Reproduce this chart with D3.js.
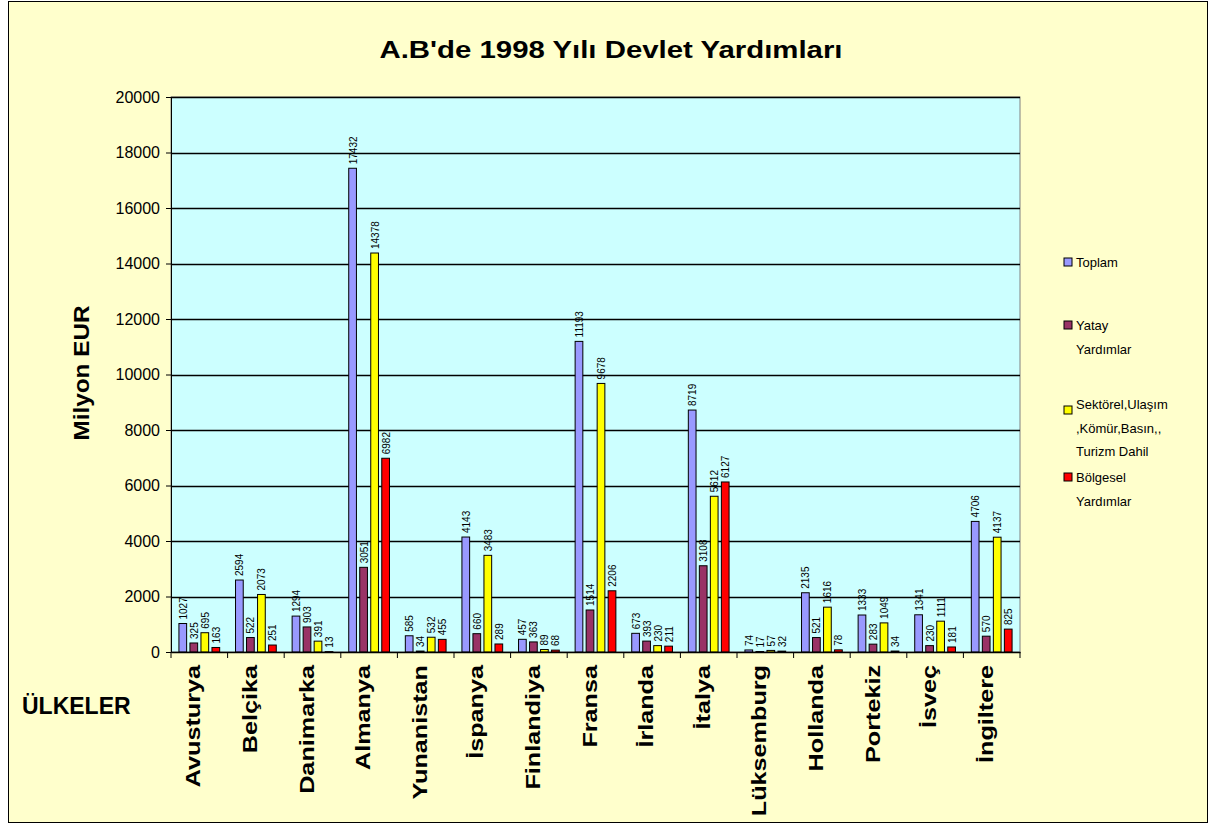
<!DOCTYPE html>
<html>
<head>
<meta charset="utf-8">
<script src="https://cdn.jsdelivr.net/npm/d3@7"></script>
<style>
  body { margin: 0; background: #fff; }
  text { font-family: "Liberation Sans", Arial, sans-serif; }
</style>
</head>
<body>
<div id="chart"></div>
<script>
var countries = ["Avusturya", "Belçika", "Danimarka", "Almanya", "Yunanistan", "İspanya", "Finlandiya",
                 "Fransa", "İrlanda", "İtalya", "Lüksemburg", "Hollanda", "Portekiz", "İsveç", "İngiltere"];
var toplam    = [1027, 2594, 1294, 17432, 585, 4143, 457, 11193, 673, 8719, 74, 2135, 1333, 1341, 4706];
var yatay     = [325, 522, 903, 3051, 34, 660, 363, 1514, 393, 3108, 17, 521, 283, 230, 570];
var sektorel  = [695, 2073, 391, 14378, 532, 3483, 89, 9678, 230, 5612, 57, 1616, 1049, 1111, 4137];
var bolgesel  = [163, 251, 13, 6982, 455, 289, 68, 2206, 211, 6127, 32, 78, 34, 181, 825];
var yTicks = [0, 2000, 4000, 6000, 8000, 10000, 12000, 14000, 16000, 18000, 20000];

var series = [
  { key: "toplam", values: toplam, color: "#9999FF", label: ["Toplam"] },
  { key: "yatay", values: yatay, color: "#993366", label: ["Yatay", "Yardımlar"] },
  { key: "sektorel", values: sektorel, color: "#FFFF00", label: ["Sektörel,Ulaşım", ",Kömür,Basın,,", "Turizm Dahil"] },
  { key: "bolgesel", values: bolgesel, color: "#FF0000", label: ["Bölgesel", "Yardımlar"] }
];

var svgWidth = 1216, svgHeight = 829;
var plot = { left: 171, top: 97, right: 1020, bottom: 652 };

var svg = d3.select("#chart").append("svg")
  .attr("width", svgWidth)
  .attr("height", svgHeight);

// outer chart area
svg.append("rect")
  .attr("x", 8.5).attr("y", 1.5)
  .attr("width", 1199).attr("height", 821)
  .attr("fill", "#FFFFCC")
  .attr("stroke", "#000").attr("stroke-width", 1);

svg.append("text")
  .attr("x", 611).attr("y", 58)
  .attr("text-anchor", "middle")
  .attr("font-size", "23px").attr("font-weight", "bold")
  .attr("textLength", 463).attr("lengthAdjust", "spacingAndGlyphs")
  .text("A.B'de 1998 Yılı  Devlet Yardımları");

var xScale = d3.scaleBand()
  .domain(countries)
  .range([plot.left, plot.right])
  .paddingInner(0.28).paddingOuter(0.14);

var xSub = d3.scaleBand()
  .domain(series.map(s => s.key))
  .range([0, xScale.bandwidth()])
  .paddingInner(0.3);

var yScale = d3.scaleLinear()
  .domain([0, 20000])
  .range([plot.bottom, plot.top]);

// plot background
svg.append("rect")
  .attr("x", plot.left).attr("y", plot.top)
  .attr("width", plot.right - plot.left).attr("height", plot.bottom - plot.top)
  .attr("fill", "#CCFFFF")
  .attr("stroke", "#808080").attr("stroke-width", 1);

// grid
svg.append("g").selectAll("line")
  .data(yTicks.slice(1))
  .enter().append("line")
  .attr("x1", plot.left).attr("x2", plot.right)
  .attr("y1", d => Math.round(yScale(d)) + 0.5)
  .attr("y2", d => Math.round(yScale(d)) + 0.5)
  .attr("stroke", "#000").attr("stroke-width", 1.5);

// y axis
var leftAxis = d3.axisLeft(yScale).tickValues(yTicks).tickSize(5).tickFormat(d3.format("d"));
var yAxisG = svg.append("g")
  .attr("transform", `translate(${plot.left}, 0)`)
  .call(leftAxis);
yAxisG.select(".domain").attr("stroke", "#000");
yAxisG.selectAll("text").attr("font-size", "16px").attr("font-family", "Liberation Sans, Arial, sans-serif").attr("dx", "-3");

// bars
var groups = svg.append("g").selectAll("g")
  .data(countries)
  .enter().append("g")
  .attr("transform", d => `translate(${xScale(d)}, 0)`);

series.forEach(function (s) {
  groups.append("rect")
    .attr("x", (d, i) => xSub(s.key))
    .attr("y", (d, i) => yScale(s.values[i]))
    .attr("width", xSub.bandwidth())
    .attr("height", (d, i) => plot.bottom - yScale(s.values[i]))
    .attr("fill", s.color)
    .attr("stroke", "#000").attr("stroke-width", 1);

  groups.append("text")
    .attr("transform", (d, i) =>
      `translate(${xSub(s.key) + xSub.bandwidth() / 2 + 4}, ${yScale(s.values[i]) - 4}) rotate(-90)`)
    .attr("font-size", "10px")
    .attr("text-anchor", "start")
    .text((d, i) => s.values[i]);
});

// x axis
var bottomAxis = d3.axisBottom(xScale).tickSize(0).tickFormat("");
var xAxisG = svg.append("g")
  .attr("transform", `translate(0, ${plot.bottom})`)
  .call(bottomAxis);
xAxisG.select(".domain").attr("stroke", "#000").attr("stroke-width", 1.5);

var step = (plot.right - plot.left) / countries.length;
svg.append("g").selectAll("line")
  .data(d3.range(countries.length + 1))
  .enter().append("line")
  .attr("x1", i => plot.left + i * step).attr("x2", i => plot.left + i * step)
  .attr("y1", plot.bottom).attr("y2", plot.bottom + 6)
  .attr("stroke", "#000");

// country names, stretched along the text direction like the original
svg.append("g").selectAll("text")
  .data(countries)
  .enter().append("text")
  .attr("transform", d => `translate(${xScale(d) + xScale.bandwidth() / 2 + 1}, 665) rotate(-90) scale(1.2, 1)`)
  .attr("text-anchor", "end")
  .attr("font-size", "21px").attr("font-weight", "bold")
  .text(d => d);

svg.append("text")
  .attr("x", 22).attr("y", 714)
  .attr("font-size", "23px").attr("font-weight", "bold")
  .text("ÜLKELER");

svg.append("text")
  .attr("transform", "translate(89, 373) rotate(-90)")
  .attr("text-anchor", "middle")
  .attr("font-size", "22px").attr("font-weight", "bold")
  .attr("textLength", 135).attr("lengthAdjust", "spacingAndGlyphs")
  .text("Milyon EUR");

// legend
var legendY = [262, 325, 404, 477];
var legend = svg.append("g").selectAll("g")
  .data(series)
  .enter().append("g")
  .attr("transform", (d, i) => `translate(1064, ${legendY[i]})`);

legend.append("rect")
  .attr("x", 0).attr("y", (d) => d.label.length === 3 ? 2 : -4)
  .attr("width", 8).attr("height", 8)
  .attr("fill", d => d.color)
  .attr("stroke", "#000");

legend.each(function (d) {
  var t = d3.select(this).append("text")
    .attr("x", 12)
    .attr("font-size", "13px");
  d.label.forEach(function (line, j) {
    t.append("tspan")
      .attr("x", 12)
      .attr("y", 5 + j * 23.5)
      .text(line);
  });
});
</script>
</body>
</html>
